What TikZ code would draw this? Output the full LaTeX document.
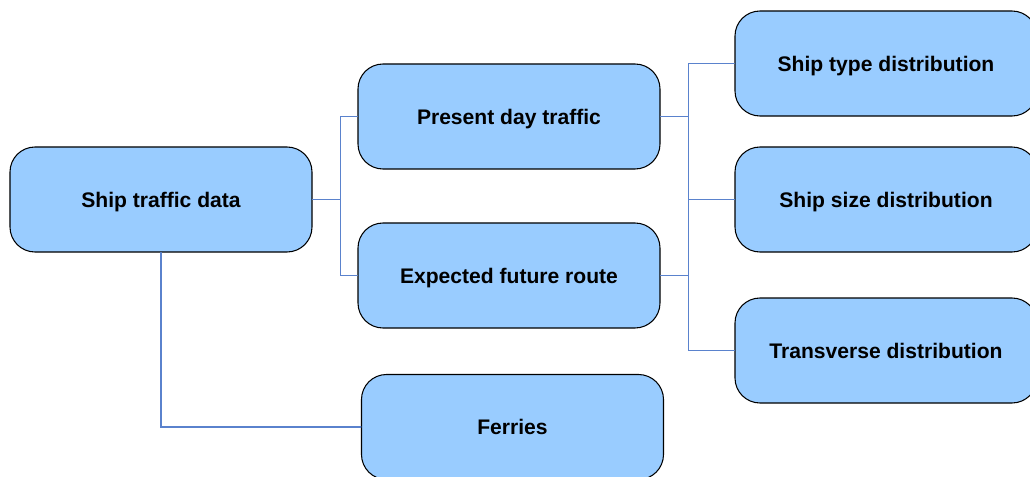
\documentclass[tikz,border=0pt]{standalone}
\usepackage{fontspec}
\setmainfont{Liberation Sans}
\usepackage{tikz}
\usetikzlibrary{positioning}
\definecolor{boxfill}{RGB}{153,204,255}
\definecolor{linkblue}{RGB}{90,130,205}

\begin{document}
\begin{tikzpicture}[x=0.2mm,y=-0.2mm,line cap=round,
  box/.style={draw=black,line width=0.6pt,fill=boxfill,rounded corners=5mm,
    minimum width=60.4mm,minimum height=21mm,inner sep=0pt,text depth=0pt,
    font=\fontsize{12}{14}\selectfont\bfseries},
  link/.style={draw=linkblue,line width=0.6pt}]
\useasboundingbox (0,0) rectangle (1030,477);
\clip (0,0) rectangle (1030,477);
\node[box] (data) at (161,199.5) {Ship traffic data};
\node[box] (present) at (509,116.5) {Present day traffic};
\node[box] (future) at (509,275.5) {Expected future route};
\node[box] (ferries) at (512.5,427) {Ferries};
\node[box] (shiptype) at (886,63.5) {Ship type distribution};
\node[box] (shipsize) at (886,199.5) {Ship size distribution};
\node[box] (transverse) at (886,350.5) {Transverse distribution};
% tree links
\draw[link] (data.east) -- ++(28,0) |- (present.west);
\draw[link] (data.east) -- ++(28,0) |- (future.west);
\draw[link] (data.south) |- (ferries.west);
\draw[link] (present.east) -- ++(28,0) |- (shiptype.west);
\draw[link] (present.east) -- ++(28,0) |- (shipsize.west);
\draw[link] (future.east) -- ++(28,0) |- (shipsize.west);
\draw[link] (future.east) -- ++(28,0) |- (transverse.west);
\end{tikzpicture}
\end{document}
